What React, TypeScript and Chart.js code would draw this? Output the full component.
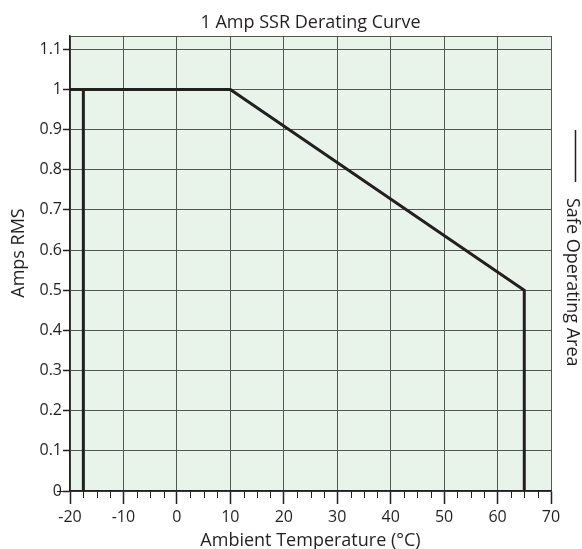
import React, { useEffect, useRef } from 'react';
import { Chart, registerables } from 'chart.js';

Chart.register(...registerables);

// ---- data ----
const chartTitle = '1 Amp SSR Derating Curve';
const xAxisTitle = 'Ambient Temperature (°C)';
const yAxisTitle = 'Amps RMS';
const seriesLabel = 'Safe Operating Area';

const curveTemps = [-20, 10, 65, 65];
const curveAmps = [1, 1, 0.5, 0];
const edgeTemps = [-17.5, -17.5];
const edgeAmps = [0, 1];

const xMin = -20;
const xMax = 70;
const xMajorStep = 10;
const xMinorStep = 2.5;
const yMin = 0;
const yMax = 1.133;
const yTickValues = [0, 0.1, 0.2, 0.3, 0.4, 0.5, 0.6, 0.7, 0.8, 0.9, 1, 1.1];
const yTickLabels = ['0', '0.1', '0.2', '0.3', '0.4', '0.5', '0.6', '0.7', '0.8', '0.9', '1', '1.1'];

const INK = '#231f20';
const GRID = '#555555';
const FILL = '#e8f3ea';
const FONT = 'Open Sans';

const bgPlugin = {
  id: 'bgFill',
  beforeDraw(chart: any) {
    const { ctx, chartArea } = chart;
    ctx.save();
    ctx.fillStyle = FILL;
    ctx.fillRect(chartArea.left, chartArea.top, chartArea.right - chartArea.left, chartArea.bottom - chartArea.top);
    ctx.restore();
  },
};

const minorTickPlugin = {
  id: 'minorTicks',
  afterDraw(chart: any) {
    const { ctx, chartArea } = chart;
    const xs = chart.scales.x;
    ctx.save();
    ctx.strokeStyle = INK;
    ctx.lineWidth = 1;
    ctx.beginPath();
    const n = Math.round((xMax - xMin) / xMinorStep);
    for (let i = 0; i <= n; i++) {
      const v = xMin + i * xMinorStep;
      if (Math.abs(v % xMajorStep) < 1e-9) continue;
      const px = Math.round(xs.getPixelForValue(v)) + 0.5;
      ctx.moveTo(px, chartArea.bottom);
      ctx.lineTo(px, chartArea.bottom + 7);
    }
    const y0 = Math.round(chart.scales.y.getPixelForValue(yMin)) + 0.5;
    ctx.moveTo(chartArea.left - 13, y0);
    ctx.lineTo(chartArea.left, y0);
    ctx.stroke();
    ctx.restore();
  },
};

const yTitlePlugin = {
  id: 'yTitle',
  afterDraw(chart: any) {
    const { ctx, chartArea } = chart;
    ctx.save();
    ctx.translate(19, chartArea.top + 217);
    ctx.rotate(-Math.PI / 2);
    ctx.fillStyle = INK;
    ctx.font = `18px "${FONT}"`;
    ctx.textAlign = 'center';
    ctx.textBaseline = 'middle';
    ctx.fillText(yAxisTitle, 0, 0);
    ctx.restore();
  },
};

const sideLegendPlugin = {
  id: 'sideLegend',
  afterDraw(chart: any) {
    const { ctx, chartArea } = chart;
    const ds = chart.data.datasets[0];
    const lx = chartArea.right + 24.5;
    const top = chartArea.top + 94;
    ctx.save();
    ctx.strokeStyle = ds.borderColor;
    ctx.lineWidth = 1.5;
    ctx.beginPath();
    ctx.moveTo(lx, top);
    ctx.lineTo(lx, top + 52);
    ctx.stroke();
    ctx.translate(chartArea.right + 16, top + 68);
    ctx.rotate(Math.PI / 2);
    ctx.fillStyle = INK;
    ctx.font = `18px "${FONT}"`;
    ctx.textAlign = 'left';
    ctx.textBaseline = 'alphabetic';
    ctx.fillText(ds.label, 0, 0);
    ctx.restore();
  },
};

export default function App() {
  const ref = useRef<HTMLCanvasElement | null>(null);

  useEffect(() => {
    document.body.style.margin = '0';
    if (!ref.current) return;
    const chart = new Chart(ref.current, {
      type: 'scatter',
      data: {
        datasets: [
          {
            label: seriesLabel,
            data: curveTemps.map((t, i) => ({ x: t, y: curveAmps[i] })),
            showLine: true,
            borderColor: INK,
            backgroundColor: INK,
            borderWidth: 3,
            pointRadius: 0,
            borderJoinStyle: 'miter',
          },
          {
            label: seriesLabel,
            data: edgeTemps.map((t, i) => ({ x: t, y: edgeAmps[i] })),
            showLine: true,
            borderColor: INK,
            backgroundColor: INK,
            borderWidth: 3,
            pointRadius: 0,
          },
        ],
      },
      options: {
        responsive: false,
        animation: false,
        layout: { padding: { left: 0, right: 31, top: 0, bottom: 0 } },
        plugins: {
          legend: { display: false },
          tooltip: { enabled: false },
          title: {
            display: true,
            text: chartTitle,
            color: INK,
            fullSize: false,
            font: { family: FONT, size: 18, weight: 'normal' },
            padding: { top: 12, bottom: 2.4 },
          },
        },
        scales: {
          x: {
            type: 'linear',
            min: xMin,
            max: xMax,
            afterFit: (s: any) => { s.height = 58; },
            ticks: {
              stepSize: xMajorStep,
              color: INK,
              font: { family: FONT, size: 16 },
              padding: 4,
              maxRotation: 0,
            },
            grid: {
              color: GRID,
              lineWidth: 1,
              tickColor: INK,
              tickLength: 13,
              tickWidth: 1.5,
            },
            border: { display: true, color: INK, width: 1.5 },
            title: {
              display: true,
              text: xAxisTitle,
              color: INK,
              font: { family: FONT, size: 18 },
              padding: { top: 0, bottom: -3 },
            },
          },
          y: {
            type: 'linear',
            min: yMin,
            max: yMax,
            afterFit: (s: any) => { s.width = 70; },
            afterBuildTicks: (s: any) => {
              s.ticks = [...yTickValues, yMax].map((v) => ({ value: v }));
            },
            ticks: {
              color: INK,
              font: { family: FONT, size: 16 },
              padding: 1,
              callback: (v: any) => {
                const i = yTickValues.findIndex((t) => Math.abs(t - Number(v)) < 1e-9);
                return i >= 0 ? yTickLabels[i] : '';
              },
            },
            grid: {
              color: GRID,
              lineWidth: 1,
              tickColor: (c: any) => (c.tick && c.tick.value > 1.11 ? 'rgba(0,0,0,0)' : INK),
              tickLength: 7,
              tickWidth: 1.5,
            },
            border: { display: true, color: INK, width: 1.5 },
            title: { display: false, text: yAxisTitle },
          },
        },
      },
      plugins: [bgPlugin, minorTickPlugin, yTitlePlugin, sideLegendPlugin],
    } as any);
    return () => chart.destroy();
  }, []);

  return <canvas ref={ref} width={582} height={549} style={{ display: 'block', width: 582, height: 549 }} />;
}
